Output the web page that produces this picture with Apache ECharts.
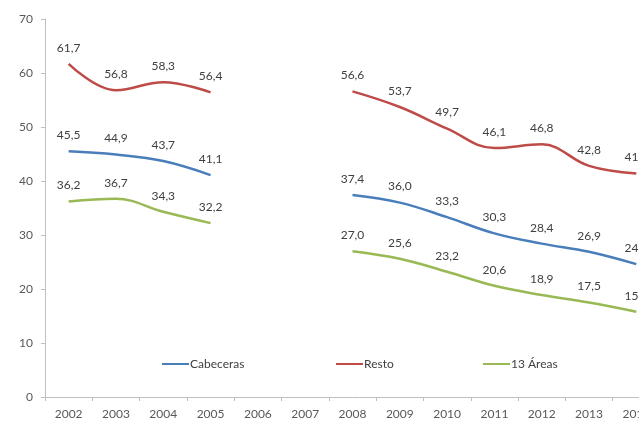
<!DOCTYPE html>
<html>
<head>
<meta charset="utf-8">
<script src="https://cdn.jsdelivr.net/npm/echarts@6/dist/echarts.min.js"></script>
<style>
    html, body { margin: 0; padding: 0; background: #fff; overflow: hidden; }
    /* 原图右侧被裁掉了一截，所以画布比窗口宽 */
    #main { width: 660px; height: 421px; }
</style>
</head>
<body>
<div id="main"></div>
<script>
// 年份（2006、2007 没有数据）
var years = ['2002', '2003', '2004', '2005', '2006', '2007', '2008', '2009', '2010', '2011', '2012', '2013', '2014'];

var cabeceras = [45.5, 44.9, 43.7, 41.1, null, null, 37.4, 36.0, 33.3, 30.3, 28.4, 26.9, 24.6];
var resto = [61.7, 56.8, 58.3, 56.4, null, null, 56.6, 53.7, 49.7, 46.1, 46.8, 42.8, 41.4];
var areas13 = [36.2, 36.7, 34.3, 32.2, null, null, 27.0, 25.6, 23.2, 20.6, 18.9, 17.5, 15.8];

var yTicks = [0, 10, 20, 30, 40, 50, 60, 70];

var textColor = '#404040';
var fontName = 'Lato';

// 数值标签用逗号做小数点
function commaLabel(p) {
    return p.value.toFixed(1).replace('.', ',');
}

function makeSeries(name, data, color) {
    return {
        name: name,
        type: 'line',
        data: data,
        smooth: 0.4,
        connectNulls: false,
        showSymbol: true,
        symbol: 'circle',
        symbolSize: 0,
        lineStyle: { color: color, width: 2.5 },
        itemStyle: { color: color },
        label: {
            show: true,
            position: 'top',
            distance: 10,
            color: textColor,
            fontFamily: fontName,
            fontSize: 12,
            formatter: commaLabel
        },
        z: 3
    };
}

// 图例单独摆放，和原图位置一致
function makeLegend(name, left) {
    return {
        data: [name],
        left: left,
        top: 353,
        icon: 'rect',
        itemWidth: 27,
        itemHeight: 2,
        itemGap: 4,
        selectedMode: false,
        textStyle: { color: textColor, fontFamily: fontName, fontSize: 12, padding: [0, 0, 0, -4] }
    };
}

var chart = echarts.init(document.getElementById('main'));

var option = {
    backgroundColor: '#ffffff',
    animation: false,
    grid: {
        left: 45,
        right: 0,
        top: 19,
        bottom: 24,
        containLabel: false
    },
    legend: [
        makeLegend('Cabeceras', 157),
        makeLegend('Resto', 331),
        makeLegend('13 Áreas', 478)
    ],
    xAxis: {
        type: 'category',
        data: years,
        boundaryGap: true,
        axisLine: { lineStyle: { color: '#bfbfbf', width: 1 } },
        axisTick: { show: true, length: 4, lineStyle: { color: '#bfbfbf' } },
        axisLabel: { color: '#595959', fontFamily: fontName, fontSize: 12, margin: 11, interval: 0 },
        splitLine: { show: false }
    },
    yAxis: {
        type: 'value',
        min: yTicks[0],
        max: yTicks[yTicks.length - 1],
        interval: 10,
        axisLine: { show: true, lineStyle: { color: '#bfbfbf', width: 1 } },
        axisTick: { show: true, length: 4, lineStyle: { color: '#bfbfbf' } },
        axisLabel: { color: '#595959', fontFamily: fontName, fontSize: 12, margin: 12 },
        splitLine: { show: false }
    },
    series: [
        makeSeries('Cabeceras', cabeceras, '#4a7ebb'),
        makeSeries('Resto', resto, '#be4b48'),
        makeSeries('13 Áreas', areas13, '#98b954')
    ]
};

chart.setOption(option, true);
</script>
</body>
</html>
